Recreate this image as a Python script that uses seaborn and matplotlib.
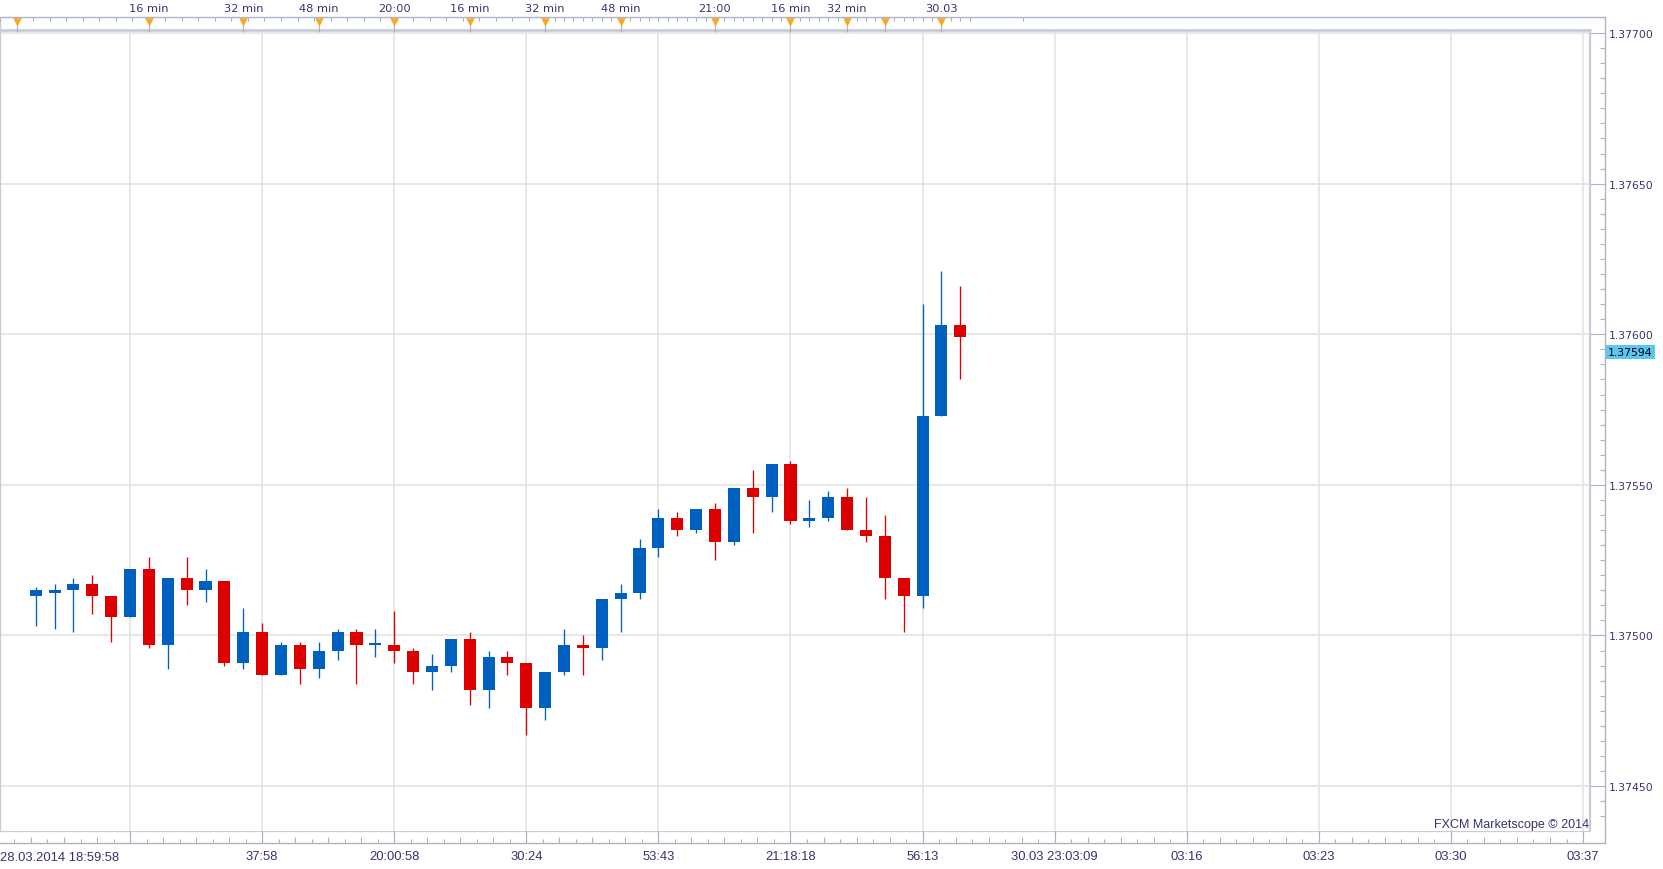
import numpy as np
import pandas as pd
import matplotlib
matplotlib.use('Agg')
import matplotlib.pyplot as plt
import seaborn as sns

# -----------------------
# candles, oldest first

opens  = [1.37513, 1.37514, 1.37515, 1.37517, 1.37513, 1.37506, 1.37522, 1.37497, 1.37519, 1.37515,
          1.37518, 1.37491, 1.37501, 1.37487, 1.37497, 1.37489, 1.37495, 1.37501, 1.37497, 1.37497,
          1.37495, 1.37488, 1.37490, 1.37499, 1.37482, 1.37493, 1.37491, 1.37476, 1.37488, 1.37497,
          1.37496, 1.37512, 1.37514, 1.37529, 1.37539, 1.37535, 1.37542, 1.37531, 1.37549, 1.37546,
          1.37557, 1.37538, 1.37539, 1.37546, 1.37535, 1.37533, 1.37519, 1.37513, 1.37573, 1.37603]
highs  = [1.37516, 1.37517, 1.37519, 1.37520, 1.37513, 1.37522, 1.37526, 1.37519, 1.37526, 1.37522,
          1.37518, 1.37509, 1.37504, 1.37498, 1.37498, 1.37498, 1.37502, 1.37502, 1.37502, 1.37508,
          1.37496, 1.37494, 1.37499, 1.37501, 1.37495, 1.37495, 1.37491, 1.37488, 1.37502, 1.37500,
          1.37512, 1.37517, 1.37532, 1.37542, 1.37541, 1.37542, 1.37544, 1.37549, 1.37555, 1.37557,
          1.37558, 1.37545, 1.37548, 1.37549, 1.37546, 1.37540, 1.37519, 1.37610, 1.37621, 1.37616]
lows   = [1.37503, 1.37502, 1.37501, 1.37507, 1.37498, 1.37506, 1.37496, 1.37489, 1.37510, 1.37511,
          1.37490, 1.37489, 1.37487, 1.37487, 1.37484, 1.37486, 1.37492, 1.37484, 1.37493, 1.37491,
          1.37484, 1.37482, 1.37488, 1.37477, 1.37476, 1.37487, 1.37467, 1.37472, 1.37487, 1.37487,
          1.37492, 1.37501, 1.37512, 1.37526, 1.37533, 1.37534, 1.37525, 1.37530, 1.37534, 1.37541,
          1.37537, 1.37536, 1.37538, 1.37535, 1.37531, 1.37512, 1.37501, 1.37509, 1.37573, 1.37585]
closes = [1.37515, 1.37515, 1.37517, 1.37513, 1.37506, 1.37522, 1.37497, 1.37519, 1.37515, 1.37518,
          1.37491, 1.37501, 1.37487, 1.37497, 1.37489, 1.37495, 1.37501, 1.37497, 1.37497, 1.37495,
          1.37488, 1.37490, 1.37499, 1.37482, 1.37493, 1.37491, 1.37476, 1.37488, 1.37497, 1.37496,
          1.37512, 1.37514, 1.37529, 1.37539, 1.37535, 1.37542, 1.37531, 1.37549, 1.37546, 1.37557,
          1.37538, 1.37539, 1.37546, 1.37535, 1.37533, 1.37519, 1.37513, 1.37573, 1.37603, 1.37599]

# time markers on the top strip (bar index) and their labels
top_pos    = [-1, 6, 11, 15, 19, 23, 27, 31, 36, 40, 43, 45, 48]
top_labels = ['', '16 min', '32 min', '48 min', '20:00', '16 min', '32 min',
              '48 min', '21:00', '16 min', '32 min', '', '30.03']

# bottom axis: one gridline every 7 bars
grid_pos   = list(range(5, 83, 7))
bot_labels = ['', '37:58', '20:00:58', '30:24', '53:43', '21:18:18', '56:13',
              '30.03 23:03:09', '03:16', '03:23', '03:30', '03:37']
first_label = '28.03.2014 18:59:58'

price_ticks = [1.37450, 1.37500, 1.37550, 1.37600, 1.37650, 1.37700]
last_price = 1.37594

# -----------------------

BLUE = '#0060c0'
RED = '#dc0000'
ORANGE = '#f9a825'
TXT = '#35356e'
FRAME = '#aab3bf'
BOX = '#c6cdd6'
GRID = '#e2e2e2'

W, H = 1663, 870

sns.set_style('white')
plt.rcParams['font.family'] = ['DejaVu Sans']

df = pd.DataFrame({'open': opens, 'high': highs, 'low': lows, 'close': closes})
df['idx'] = np.arange(len(df))
df['up'] = df['close'] >= df['open']

xlim = (-1.892, 82.37)
ylim = (1.374352, 1.377010)

def fy(y):
	return 1 - y / H

fig = plt.figure(figsize=(W / 100, H / 100), dpi=100)
ax = fig.add_axes([0, fy(831.7), 1590 / W, (831.7 - 31) / H])
ax_top = fig.add_axes([0, fy(31), 1590 / W, (31 - 18.3) / H])
ax_bot = fig.add_axes([0, fy(844), 1590 / W, (844 - 831.7) / H])

for a in (ax, ax_top, ax_bot):
	a.set_facecolor('white')
	for s in a.spines.values():
		s.set_visible(False)

# --- main panel

ax.set_xticks(grid_pos)
ax.tick_params(axis='x', length=0, labelbottom=False)
ax.grid(True, color=GRID, lw=1.1)
ax.set_axisbelow(True)

for up, col in [(True, BLUE), (False, RED)]:
	d = df[df['up'] == up]
	ax.vlines(d['idx'], d['low'], d['high'], color=col, lw=0.95, zorder=2)
	body = (d['close'] - d['open']).abs().clip(lower=0.000006)
	ax.bar(d['idx'], body, bottom=d[['open', 'close']].min(axis=1), width=0.64,
		color=col, lw=0, zorder=3)

# price scale on the right, ticks pointing back into the chart
ax.spines['right'].set_position(('outward', 10.8))
ax.yaxis.set_ticks_position('right')
ax.set_yticks(price_ticks)
ax.set_yticklabels(['%.5f' % p for p in price_ticks])
ax.set_yticks(np.arange(1.37435, 1.37705, 0.00005), minor=True)
ax.tick_params(axis='y', which='major', direction='in', length=10.8, width=0.8,
	color=FRAME, pad=3, labelsize=7.8, labelcolor=TXT, right=True, left=False)
ax.tick_params(axis='y', which='minor', direction='in', length=3.6, width=0.8,
	color=FRAME, right=True, left=False)

# limits last, set_yticks may have widened them
ax.set_xlim(*xlim)
ax.set_ylim(*ylim)

ax.text(1608 / 1590, last_price, '%.5f' % last_price, transform=ax.get_yaxis_transform(),
	ha='left', va='center', fontsize=7.8, color='black',
	bbox=dict(boxstyle='square,pad=0.18', fc='#5cc6f2', ec='none'))

ax.text(1589 / 1590, 0.0084, 'FXCM Marketscope \u00a9 2014', transform=ax.transAxes,
	ha='right', va='center', fontsize=9, color=TXT, family=['Liberation Sans'])

# inner box edges and outer price-axis line
ax.plot([0, 0], [0, 1], transform=ax.transAxes, color=BOX, lw=1, clip_on=False)
ax.plot([1, 1], [0, 1], transform=ax.transAxes, color=BOX, lw=1.6, clip_on=False)
ax.plot([1605 / 1590] * 2, [(831.7 - 844) / 800.7, (831.7 - 18.3) / 800.7],
	transform=ax.transAxes, color=FRAME, lw=1, clip_on=False)

# --- top time strip

ax_top.set_ylim(0, 1)
ax_top.set_xticks([])
ax_top.set_yticks([])
ax_top.axhline(1, xmin=0, xmax=1605 / 1590, color=FRAME, lw=1, clip_on=False)
ax_top.axhline(0, color=BOX, lw=2, clip_on=False)
ax_top.axvline(xlim[0], color=BOX, lw=1)

top_minor = np.concatenate([np.arange(-1.875, 27, 0.875), np.arange(27.5, 50, 0.5), [52.3]])
ax_top.vlines(top_minor, 0.69, 1, color=FRAME, lw=0.8)
ax_top.vlines(top_pos, -0.16, 0.6, color=FRAME, lw=0.8, clip_on=False)
sns.scatterplot(x=top_pos, y=[0.66] * len(top_pos), marker='v', s=38, color=ORANGE,
	edgecolor=ORANGE, linewidth=0, ax=ax_top, legend=False, zorder=4)
ax_top.set(xlabel=None, ylabel=None)
ax_top.set_xlim(*xlim)
ax_top.set_ylim(0, 1)
for p, lab in zip(top_pos, top_labels):
	if lab:
		ax_top.text(p, 1.75, lab, ha='center', va='center', fontsize=8.2, color=TXT)

# --- bottom time strip

ax_bot.set_ylim(0, 1)
ax_bot.set_yticks([])
ax_bot.axhline(1, color=BOX, lw=1.6)
ax_bot.axhline(0, xmin=0, xmax=1605 / 1590, color=FRAME, lw=1, clip_on=False)
ax_bot.vlines(grid_pos, 0, 1, color=FRAME, lw=0.9)
bot_minor = [g + 7 * j / 8 for g in range(-2, 89, 7) for j in range(1, 8)]
tall = [m for i, m in enumerate(bot_minor) if (i % 7) % 2 == 1]
short = [m for i, m in enumerate(bot_minor) if (i % 7) % 2 == 0]
ax_bot.vlines(tall, 0, 0.5, color=FRAME, lw=0.8)
ax_bot.vlines(short, 0, 0.3, color=FRAME, lw=0.8)

ax_bot.set_xticks(grid_pos)
ax_bot.set_xticklabels(bot_labels)
ax_bot.tick_params(axis='x', length=0, pad=5.2, labelsize=9.4, labelcolor=TXT)
for t in ax_bot.get_xticklabels():
	t.set_family(['Liberation Sans'])
ax_bot.set_xlim(*xlim)
ax_bot.set_ylim(0, 1)
ax_bot.text(0, -1.12, first_label, transform=ax_bot.transAxes, ha='left', va='center',
	fontsize=9.4, color=TXT, family=['Liberation Sans'])
ax_bot.set(xlabel=None, ylabel=None)

plt.savefig('out.png', dpi=100)
